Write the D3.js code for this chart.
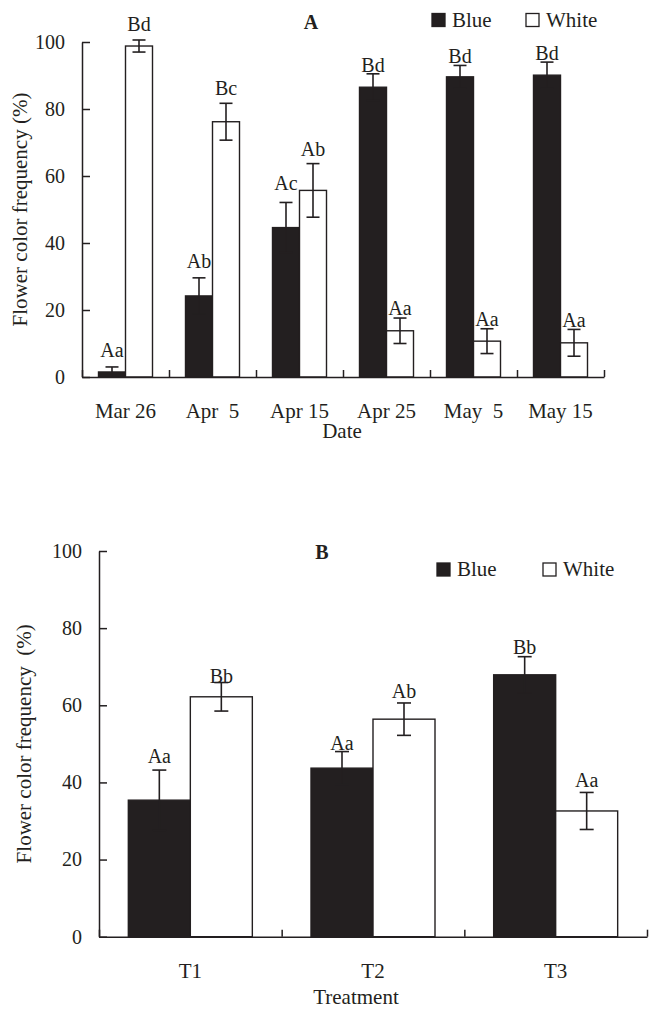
<!DOCTYPE html>
<html>
<head>
<meta charset="utf-8">
<script src="https://cdn.jsdelivr.net/npm/d3@7"></script>
<style>
  body { margin: 0; background: #fff; }
  text { font-family: "Liberation Serif", "Times New Roman", serif; fill: #231f20; white-space: pre; }
</style>
</head>
<body>
<div id="chart"></div>
<script>
// ---- data, panel A (by date)
var dates = ["Mar 26", "Apr  5", "Apr 15", "Apr 25", "May  5", "May 15"];
var blueA = [1.5, 24.2, 44.6, 86.5, 89.6, 90.1];
var blueErrA = [1.5, 5.4, 7.5, 4.0, 3.4, 3.9];
var whiteA = [98.8, 76.2, 55.7, 13.8, 10.7, 10.2];
var whiteErrA = [1.8, 5.5, 8.0, 3.8, 3.7, 4.0];
var blueLetterA = ["Aa", "Ab", "Ac", "Bd", "Bd", "Bd"];
var whiteLetterA = ["Bd", "Bc", "Ab", "Aa", "Aa", "Aa"];

// ---- data, panel B (by treatment)
var treatments = ["T1", "T2", "T3"];
var blueB = [35.4, 43.7, 67.9];
var blueErrB = [7.8, 4.3, 4.7];
var whiteB = [62.2, 56.4, 32.6];
var whiteErrB = [3.7, 4.2, 4.8];
var blueLetterB = ["Aa", "Aa", "Bb"];
var whiteLetterB = ["Bb", "Ab", "Aa"];

var series = ["Blue", "White"];
var yTicks = [0, 20, 40, 60, 80, 100];

// letters were placed by hand in the original, small lifts (px) above the error cap
var liftA = { Blue: [10, 10, 12, 2, 2, 2], White: [9, 8, 8, 3, 3, 2] };
var liftB = { Blue: [7, 2, 3], White: [0, 5, 5] };

var ink = "#231f20";

var svg = d3.select("#chart").append("svg")
    .attr("width", 649)
    .attr("height", 1010);

function panel(o) {
  var g = svg.append("g");

  var y = d3.scaleLinear().domain([0, 100]).range([o.y0, o.y1]);
  var x = d3.scaleBand().domain(o.cats).range([o.x0, o.x1]);
  var sub = d3.scaleBand().domain(series)
      .range([(x.bandwidth() - o.groupW) / 2, (x.bandwidth() + o.groupW) / 2]);
  var xt = d3.scaleLinear().domain([0, o.cats.length]).range([o.x0, o.x1]);

  // rows: one per bar
  var rows = [];
  o.cats.forEach(function(c, i) {
    rows.push({ cat: c, s: "Blue", v: o.blue[i], e: o.blueErr[i], l: o.blueLetter[i], lift: o.lift.Blue[i] });
    rows.push({ cat: c, s: "White", v: o.white[i], e: o.whiteErr[i], l: o.whiteLetter[i], lift: o.lift.White[i] });
  });

  g.selectAll("rect.bar")
      .data(rows)
      .enter().append("rect")
      .attr("class", "bar")
      .attr("x", function(d) { return x(d.cat) + sub(d.s); })
      .attr("width", sub.bandwidth())
      .attr("y", function(d) { return y(d.v); })
      .attr("height", function(d) { return y(0) - y(d.v); })
      .attr("fill", function(d) { return d.s == "Blue" ? ink : "#fff"; })
      .attr("stroke", ink)
      .attr("stroke-width", 1.4);

  // error bars
  var eb = g.selectAll("g.err")
      .data(rows)
      .enter().append("g")
      .attr("class", "err")
      .attr("stroke", ink)
      .attr("stroke-width", 1.6)
      .attr("transform", function(d) { return "translate(" + (x(d.cat) + sub(d.s) + sub.bandwidth() / 2) + ",0)"; });
  eb.append("line")
      .attr("y1", function(d) { return y(d.v + d.e); })
      .attr("y2", function(d) { return y(d.v - d.e); });
  eb.append("line")
      .attr("x1", -o.cap / 2).attr("x2", o.cap / 2)
      .attr("y1", function(d) { return y(d.v + d.e); })
      .attr("y2", function(d) { return y(d.v + d.e); });
  eb.append("line")
      .attr("x1", -o.cap / 2).attr("x2", o.cap / 2)
      .attr("y1", function(d) { return y(d.v - d.e); })
      .attr("y2", function(d) { return y(d.v - d.e); });

  // significance letters
  g.selectAll("text.sig")
      .data(rows)
      .enter().append("text")
      .attr("class", "sig")
      .attr("text-anchor", "middle")
      .attr("font-size", 20)
      .attr("x", function(d) { return x(d.cat) + sub(d.s) + sub.bandwidth() / 2; })
      .attr("y", function(d) { return y(d.v + d.e) - d.lift; })
      .text(function(d) { return d.l; });

  // y axis, ticks pointing in
  var ya = g.append("g")
      .attr("transform", "translate(" + o.x0 + ",0)")
      .call(d3.axisLeft(y).tickValues(yTicks).tickSizeInner(-8).tickSizeOuter(0).tickPadding(17));

  // x axis: boundary ticks
  var xa = g.append("g")
      .attr("transform", "translate(0," + o.y0 + ")")
      .call(d3.axisBottom(xt).ticks(o.cats.length).tickSizeInner(-7).tickSizeOuter(0).tickFormat(""));

  // category labels
  var xl = g.append("g")
      .attr("transform", "translate(0," + o.y0 + ")")
      .call(d3.axisBottom(x).tickSize(0).tickPadding(26));
  xl.select(".domain").remove();

  [ya, xa, xl].forEach(function(a) {
    a.selectAll("path, line").attr("stroke", ink).attr("stroke-width", 1.5);
    a.selectAll("text").attr("font-family", null).attr("fill", ink);
  });
  ya.attr("font-size", 20);
  xl.attr("font-size", 21);

  // titles
  g.append("text")
      .attr("transform", "translate(" + o.yTitleX + "," + (o.y0 + o.y1) / 2 + ") rotate(-90)")
      .attr("text-anchor", "middle")
      .attr("font-size", 21)
      .text(o.yTitle);

  g.append("text")
      .attr("x", o.xTitle[0]).attr("y", o.xTitle[1])
      .attr("text-anchor", "middle")
      .attr("font-size", 21)
      .text(o.xTitleText);

  g.append("text")
      .attr("x", o.tag[0]).attr("y", o.tag[1])
      .attr("text-anchor", "middle")
      .attr("font-size", 20)
      .attr("font-weight", "bold")
      .text(o.tagText);

  // legend
  var lg = g.selectAll("g.leg")
      .data(series)
      .enter().append("g")
      .attr("class", "leg")
      .attr("transform", function(d, i) { return "translate(" + o.legend[i][0] + "," + o.legend[i][1] + ")"; });
  lg.append("rect")
      .attr("width", 13).attr("height", 13)
      .attr("fill", function(d) { return d == "Blue" ? ink : "#fff"; })
      .attr("stroke", ink)
      .attr("stroke-width", 1.3);
  lg.append("text")
      .attr("x", 20).attr("y", 13)
      .attr("font-size", 21)
      .text(function(d) { return d; });
}

panel({
  cats: dates, blue: blueA, blueErr: blueErrA, white: whiteA, whiteErr: whiteErrA,
  blueLetter: blueLetterA, whiteLetter: whiteLetterA, lift: liftA,
  x0: 82, x1: 604, y0: 377, y1: 42, groupW: 54, cap: 13,
  yTitle: "Flower color frequency (%)", yTitleX: 27,
  xTitleText: "Date", xTitle: [342, 438],
  tagText: "A", tag: [311, 29],
  legend: [[432, 13.5], [526, 13.5]]
});

panel({
  cats: treatments, blue: blueB, blueErr: blueErrB, white: whiteB, whiteErr: whiteErrB,
  blueLetter: blueLetterB, whiteLetter: whiteLetterB, lift: liftB,
  x0: 99, x1: 647, y0: 936.7, y1: 551, groupW: 124, cap: 14,
  yTitle: "Flower color frequency  (%)", yTitleX: 31,
  xTitleText: "Treatment", xTitle: [356, 1004],
  tagText: "B", tag: [322, 559],
  legend: [[437, 563], [543, 563]]
});
</script>
</body>
</html>
